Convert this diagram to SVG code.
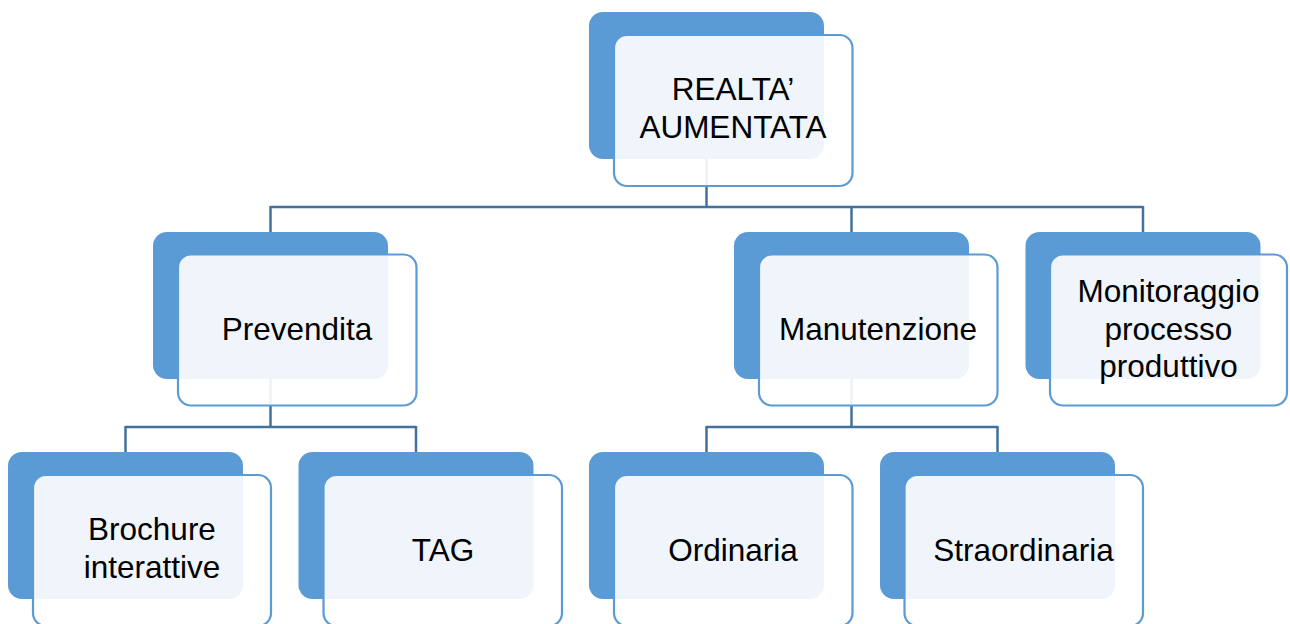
<svg xmlns="http://www.w3.org/2000/svg" width="1290" height="624" viewBox="0 0 1290 624">
  <style>
    .back { fill: #5B9BD5; }
    .front { fill: #FFFFFF; fill-opacity: 0.9; stroke: #5B9BD5; stroke-width: 2.2; }
    .conn { fill: none; stroke: #41719C; stroke-width: 2.5; }
    .lbl { font-family: "Liberation Sans", Arial, sans-serif; font-size: 31.5px; fill: #000000; text-anchor: middle; }
  </style>
  <rect width="1290" height="624" fill="#FFFFFF"/>
  <g id="connectors">
    <path class="conn" d="M706.5,159 V207 M270.5,207 H1143 M270.5,206 V232 M851.5,206 V232 M1143,206 V232"/>
    <path class="conn" d="M270.5,379 V427 M125.5,427 H416 M125.5,426 V452 M416,426 V452"/>
    <path class="conn" d="M851.5,379 V427 M706.5,427 H997.5 M706.5,426 V452 M997.5,426 V452"/>
  </g>
  <g id="node-realta">
    <rect class="back" x="589" y="12" width="235" height="147" rx="14"/>
    <rect class="front" x="614" y="35" width="238.5" height="151" rx="13"/>
    <text class="lbl" x="733" y="100">REALTA’</text>
    <text class="lbl" x="733" y="138">AUMENTATA</text>
  </g>
  <g id="node-prevendita">
    <rect class="back" x="153" y="232" width="235" height="147" rx="14"/>
    <rect class="front" x="178" y="254.5" width="238.5" height="151" rx="13"/>
    <text class="lbl" x="297" y="340">Prevendita</text>
  </g>
  <g id="node-manutenzione">
    <rect class="back" x="734" y="232" width="235" height="147" rx="14"/>
    <rect class="front" x="759" y="254.5" width="238.5" height="151" rx="13"/>
    <text class="lbl" x="878" y="340">Manutenzione</text>
  </g>
  <g id="node-monitoraggio">
    <rect class="back" x="1025.5" y="232" width="235" height="147" rx="14"/>
    <rect class="front" x="1050" y="254.5" width="237" height="151" rx="13"/>
    <text class="lbl" x="1168.5" y="302">Monitoraggio</text>
    <text class="lbl" x="1168.5" y="340">processo</text>
    <text class="lbl" x="1168.5" y="377">produttivo</text>
  </g>
  <g id="node-brochure">
    <rect class="back" x="8" y="452" width="235" height="147" rx="14"/>
    <rect class="front" x="33" y="475" width="238" height="151" rx="13"/>
    <text class="lbl" x="152" y="540">Brochure</text>
    <text class="lbl" x="152" y="578">interattive</text>
  </g>
  <g id="node-tag">
    <rect class="back" x="298.5" y="452" width="235" height="147" rx="14"/>
    <rect class="front" x="323.5" y="475" width="238.5" height="151" rx="13"/>
    <text class="lbl" x="443" y="561">TAG</text>
  </g>
  <g id="node-ordinaria">
    <rect class="back" x="589" y="452" width="235" height="147" rx="14"/>
    <rect class="front" x="614" y="475" width="238.5" height="151" rx="13"/>
    <text class="lbl" x="733" y="561">Ordinaria</text>
  </g>
  <g id="node-straordinaria">
    <rect class="back" x="880" y="452" width="235" height="147" rx="14"/>
    <rect class="front" x="904.5" y="475" width="238.5" height="151" rx="13"/>
    <text class="lbl" x="1023.5" y="561">Straordinaria</text>
  </g>
</svg>
